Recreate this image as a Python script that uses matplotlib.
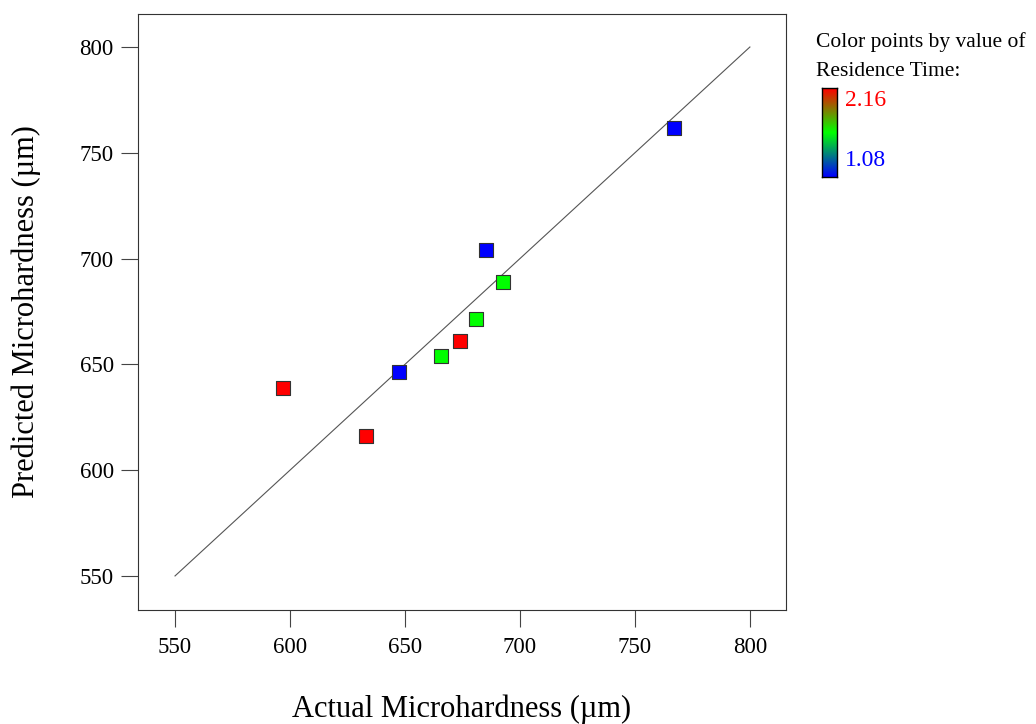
import numpy as np
import matplotlib
matplotlib.use("Agg")
import matplotlib.pyplot as plt
from matplotlib.colors import LinearSegmentedColormap, Normalize

plt.rcParams['font.family'] = ['Liberation Serif', 'DejaVu Serif']

# Actual vs predicted microhardness (µm), coloured by residence time
actual = [767.0, 685.2, 692.6, 680.9, 673.9, 665.7, 647.4, 633.0, 597.0]
predicted = [761.7, 704.1, 688.9, 671.5, 661.1, 654.0, 646.4, 616.2, 638.8]
residence = [1.08, 1.08, 1.62, 1.62, 2.16, 1.62, 1.08, 2.16, 2.16]
ticks = [550, 600, 650, 700, 750, 800]
rt_min, rt_max = 1.08, 2.16

cmap = LinearSegmentedColormap.from_list(
    "rgb_scale", [(0.0, "#0000ff"), (0.5, "#00ff00"), (1.0, "#ff0000")])
norm = Normalize(rt_min, rt_max)

fig = plt.figure(figsize=(10.36, 7.24), dpi=100)
ax = fig.add_axes([138 / 1036, 1 - 610 / 724, 648 / 1036, 596 / 724])

ax.plot([ticks[0], ticks[-1]], [ticks[0], ticks[-1]], color="#555555", lw=0.8, zorder=1)
ax.scatter(actual, predicted, c=residence, cmap=cmap, norm=norm, marker="s",
           s=100, edgecolors="#333333", linewidths=0.8, zorder=3)

ax.set_xlim(533.9, 815.7)
ax.set_ylim(533.9, 815.6)
ax.set_xticks(ticks)
ax.set_yticks(ticks)
ax.tick_params(direction="out", length=12.5, width=0.8, labelsize=16.5, pad=5,
               color="#444444")
ax.tick_params(axis="x", pad=7)
ax.set_xlabel("Actual Microhardness (µm)", fontsize=22, labelpad=26)
ax.set_ylabel("Predicted Microhardness (µm)", fontsize=22, labelpad=28)
for sp in ax.spines.values():
    sp.set_linewidth(0.8)
    sp.set_color("#333333")

# Colour key
fig.text(816 / 1036, 1 - 42 / 724, "Color points by value of", fontsize=15.5,
         ha="left", va="center")
fig.text(816 / 1036, 1 - 72 / 724, "Residence Time:", fontsize=15.5,
         ha="left", va="center")
cax = fig.add_axes([822 / 1036, 1 - 177 / 724, 15 / 1036, 89 / 724])
grad = np.linspace(rt_max, rt_min, 200).reshape(-1, 1)
cax.imshow(grad, aspect="auto", cmap=cmap, norm=norm)
cax.set_xticks([])
cax.set_yticks([])
for sp in cax.spines.values():
    sp.set_linewidth(1.0)
fig.text(845 / 1036, 1 - 101 / 724, f"{rt_max:.2f}", fontsize=17, color="#ff0000",
         ha="left", va="center")
fig.text(845 / 1036, 1 - 161 / 724, f"{rt_min:.2f}", fontsize=17, color="#0000ff",
         ha="left", va="center")

fig.savefig("out.png", dpi=100)
